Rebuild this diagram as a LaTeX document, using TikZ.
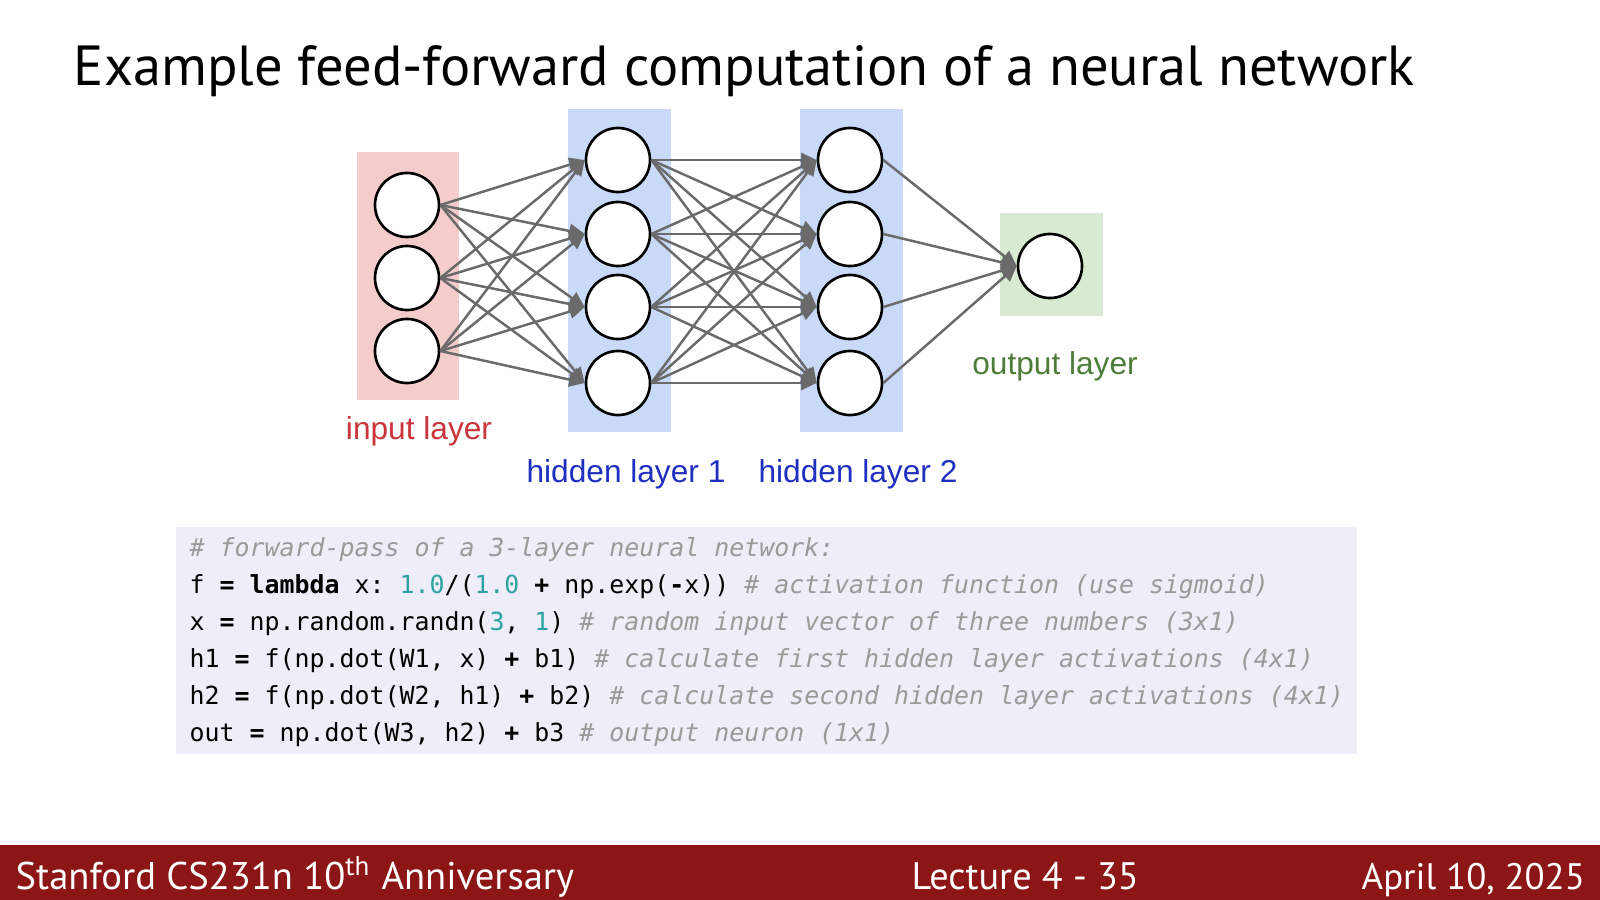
\documentclass[tikz,border=0pt]{standalone}
\usepackage{fontspec}
\usepackage{graphicx}
\setmainfont{PT Sans}
\newfontfamily\netfont{Liberation Sans}
\newfontfamily\codefont{DejaVu Sans Mono}
\usetikzlibrary{arrows.meta}
\frenchspacing
\definecolor{inbg}{HTML}{F4CCCC}
\definecolor{hidbg}{HTML}{C9DAF8}
\definecolor{outbg}{HTML}{D9EAD3}
\definecolor{intxt}{HTML}{C9353B}
\definecolor{hidtxt}{HTML}{1F2FBF}
\definecolor{outtxt}{HTML}{4E7D3A}
\definecolor{edgegray}{HTML}{6A6A6A}
\definecolor{codebg}{HTML}{EEEEF9}
\definecolor{numcol}{HTML}{2BA3A0}
\definecolor{cmtcol}{HTML}{9A9A9A}
\definecolor{cardinal}{HTML}{8C1515}
\newcommand\cmt[1]{{\color{cmtcol}\itshape #1}}
\newcommand\nmb[1]{{\color{numcol}#1}}
\newcommand\op[1]{\textbf{#1}}
\tikzset{
  neuron/.style={circle, draw=black, line width=0.75pt, fill=white, minimum size=0.64cm, inner sep=0pt},
  edge/.style={draw=edgegray, line width=0.7pt, -{Triangle[length=4.4pt,width=4pt]}},
  netlabel/.style={font=\netfont\fontsize{9}{11}\selectfont, inner sep=0pt},
  codeline/.style={anchor=base west, inner sep=0pt, font=\codefont\fontsize{7.08}{8}\selectfont},
  foot/.style={text=white, inner sep=0pt, anchor=base west}
}
\begin{document}
\begin{tikzpicture}[x=0.01cm, y=-0.01cm]
\useasboundingbox (0,0) rectangle (1600,900);
\fill[white] (0,0) rectangle (1600,900);

% title
\node[anchor=base west, inner sep=0pt] (title) at (73,85)
  {\resizebox{13.40cm}{!}{Example feed-forward computation of a neural network}};

% layer backgrounds
\fill[inbg] (357,152) rectangle (459,400);
\fill[hidbg] (568,109) rectangle (671,432);
\fill[hidbg] (800,109) rectangle (903,432);
\fill[outbg] (1000,213) rectangle (1103,316);

% neurons
\node[neuron] (i1) at (407,205) {};
\node[neuron] (i2) at (407,278) {};
\node[neuron] (i3) at (407,351) {};
\foreach \k/\yy in {1/160,2/234,3/307,4/383}{
  \node[neuron] (a\k) at (618,\yy) {};
  \node[neuron] (b\k) at (850,\yy) {};
}
\node[neuron] (o1) at (1050,266) {};

% connections
\foreach \s in {1,2,3}{\foreach \t in {1,2,3,4}{\draw[edge] (i\s.east) -- (a\t.west);}}
\foreach \s in {1,2,3,4}{\foreach \t in {1,2,3,4}{\draw[edge] (a\s.east) -- (b\t.west);}}
\foreach \s in {1,2,3,4}{\draw[edge] (b\s.east) -- (o1.west);}

% labels
\node[netlabel, text=intxt] (lin) at (419,431) {input layer};
\node[netlabel, text=hidtxt] (lh1) at (626,474) {hidden layer 1};
\node[netlabel, text=hidtxt] (lh2) at (858,474) {hidden layer 2};
\node[netlabel, text=outtxt] (lout) at (1055,366) {output layer};

% code block
\fill[codebg] (176,527) rectangle (1357,754);
\node[codeline] (c1) at (189,556) {\cmt{\# forward-pass of a 3-layer neural network:}};
\node[codeline] (c2) at (189,593) {f \op{=} \textbf{lambda} x: \nmb{1.0}/(\nmb{1.0} \op{+} np.exp(\op{-}x)) \cmt{\# activation function (use sigmoid)}};
\node[codeline] (c3) at (189,630) {x \op{=} np.random.randn(\nmb{3}, \nmb{1}) \cmt{\# random input vector of three numbers (3x1)}};
\node[codeline] (c4) at (189,667) {h1 \op{=} f(np.dot(W1, x) \op{+} b1) \cmt{\# calculate first hidden layer activations (4x1)}};
\node[codeline] (c5) at (189,704) {h2 \op{=} f(np.dot(W2, h1) \op{+} b2) \cmt{\# calculate second hidden layer activations (4x1)}};
\node[codeline] (c6) at (189,741) {out \op{=} np.dot(W3, h2) \op{+} b3 \cmt{\# output neuron (1x1)}};

% footer
\fill[cardinal] (0,845) rectangle (1600,900);
\node[foot] (f1) at (15,889) {\resizebox{5.58cm}{!}{Stanford CS231n 10\textsuperscript{th} Anniversary}};
\node[foot] (f2) at (911,889) {\resizebox{2.27cm}{!}{Lecture 4 - 35}};
\node[foot] (f3) at (1361,889) {\resizebox{2.23cm}{!}{April 10, 2025}};
\end{tikzpicture}
\end{document}
